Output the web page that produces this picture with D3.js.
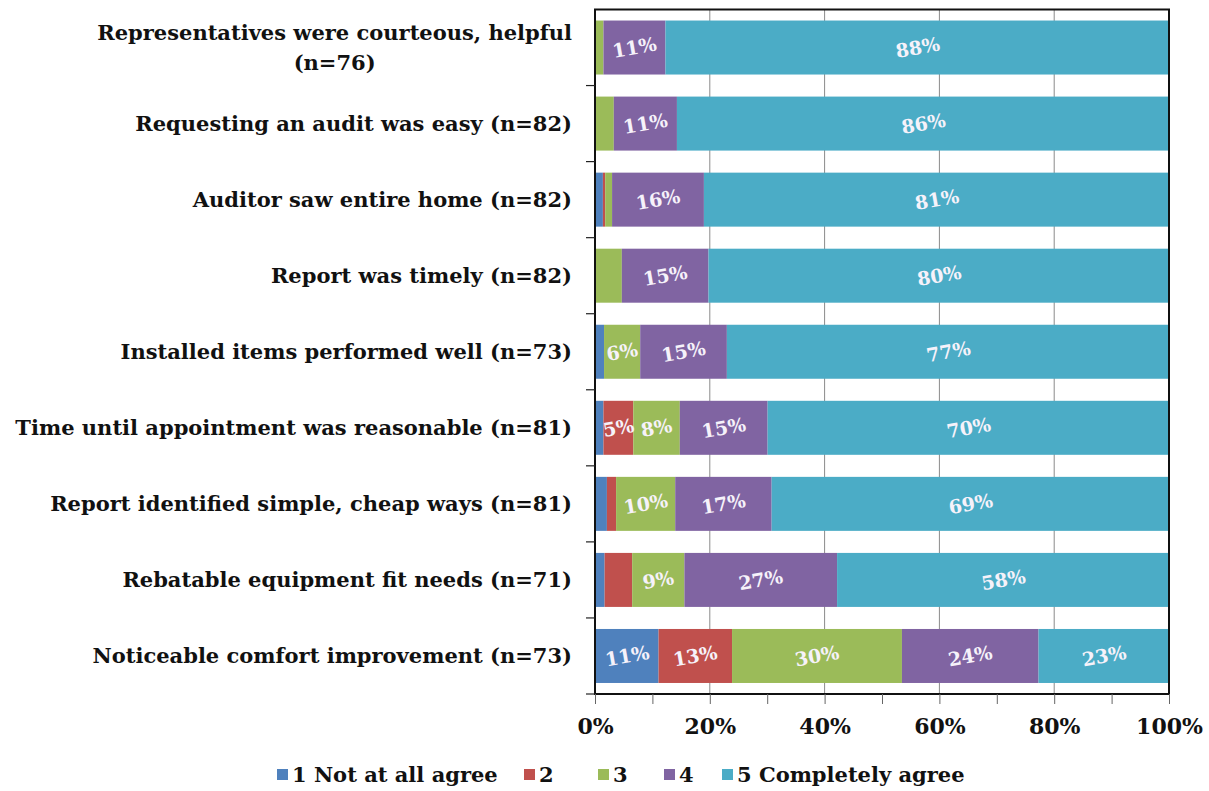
<!DOCTYPE html>
<html>
<head>
<meta charset="utf-8">
<script src="https://cdn.jsdelivr.net/npm/d3@7"></script>
<style>
  html, body { margin: 0; padding: 0; background: #fff; }
  svg { display: block; }
  text { font-family: "DejaVu Serif", "Liberation Serif", serif; font-weight: bold; }
</style>
</head>
<body>
<svg id="chart" width="1209" height="791"></svg>
<script>
// Survey statements (top to bottom), each label line as its own entry
const categories = [
  ["Representatives were courteous, helpful", "(n=76)"],
  ["Requesting an audit was easy (n=82)"],
  ["Auditor saw entire home (n=82)"],
  ["Report was timely (n=82)"],
  ["Installed items performed well (n=73)"],
  ["Time until appointment was reasonable (n=81)"],
  ["Report identified simple, cheap ways (n=81)"],
  ["Rebatable equipment fit needs (n=71)"],
  ["Noticeable comfort improvement (n=73)"]
];

// Response levels
const seriesNames = ["1 Not at all agree", "2", "3", "4", "5 Completely agree"];

// Percent of respondents per level, one array per level, rows in category order
const level1 = [0,   0,   1.2, 0,   1.4, 1.3, 1.9, 1.5, 10.9];
const level2 = [0,   0,   0.4, 0,   0,   5.2, 1.6, 4.8, 12.8];
const level3 = [1.3, 3.1, 1.2, 4.5, 6.3, 8.1, 10.3, 9.1, 29.6];
const level4 = [10.8, 11,  16, 15.1, 15.1, 15.3, 16.8, 26.6, 23.8];
const level5 = [87.9, 85.9, 81.2, 80.4, 77.2, 70.1, 69.4, 58.0, 22.9];

const tickValues = [0, 20, 40, 60, 80, 100];
const minorTickValues = [0, 10, 20, 30, 40, 50, 60, 70, 80, 90, 100];

const colors = ["#4F81BD", "#C0504D", "#9BBB59", "#8064A2", "#4BACC6"];

const svg = d3.select("#chart");
const plot = { left: 595, right: 1169, top: 9.5, bottom: 694 };

const x = d3.scaleLinear().domain([0, 100]).range([plot.left, plot.right]);
const y = d3.scaleBand()
  .domain(d3.range(categories.length))
  .range([plot.top, plot.bottom])
  .paddingInner(0.29)
  .paddingOuter(0.145);

// Build stacked table from the level arrays
const levels = [level1, level2, level3, level4, level5];
const table = categories.map((c, i) => {
  const row = { idx: i };
  seriesNames.forEach((s, k) => row[s] = levels[k][i]);
  return row;
});
const stack = d3.stack().keys(seriesNames)(table);

// Vertical gridlines
svg.append("g")
  .selectAll("line")
  .data(tickValues.filter(v => v > 0 && v < 100))
  .join("line")
  .attr("x1", d => x(d)).attr("x2", d => x(d))
  .attr("y1", plot.top).attr("y2", plot.bottom)
  .attr("stroke", "#8a8a8a").attr("stroke-width", 1);

// Bars
const layer = svg.append("g").selectAll("g")
  .data(stack)
  .join("g")
  .attr("fill", (d, k) => colors[k]);

layer.selectAll("rect")
  .data(d => d)
  .join("rect")
  .attr("x", d => x(d[0]) + 1)
  .attr("width", d => Math.max(0, x(d[1]) - x(d[0])))
  .attr("y", d => y(d.data.idx))
  .attr("height", y.bandwidth());

// Value labels on segments of 5% or more
const labelG = svg.append("g");
stack.forEach((ser, k) => {
  ser.forEach(d => {
    const v = d[1] - d[0];
    if (v < 5) return;
    const cx = (x(d[0]) + x(d[1])) / 2 + 1;
    const cy = y(d.data.idx) + y.bandwidth() / 2;
    labelG.append("text")
      .attr("transform", `translate(${cx},${cy}) rotate(-10)`)
      .attr("text-anchor", "middle")
      .attr("dy", "0.35em")
      .attr("fill", "#f6f2fa")
      .style("font-size", "19px")
      .text(Math.round(v) + "%");
  });
});

// Plot frame
svg.append("rect")
  .attr("x", plot.left).attr("y", plot.top)
  .attr("width", plot.right - plot.left).attr("height", plot.bottom - plot.top)
  .attr("fill", "none").attr("stroke", "#111").attr("stroke-width", 2);

// Y axis ticks at category boundaries
const boundaries = d3.range(categories.length + 1).map(i => plot.top + i * y.step());
svg.append("g").selectAll("line")
  .data(boundaries.slice(1))
  .join("line")
  .attr("x1", plot.left - 9).attr("x2", plot.left)
  .attr("y1", d => d).attr("y2", d => d)
  .attr("stroke", "#222").attr("stroke-width", 1.2);

// X axis
const xAxis = d3.axisBottom(x)
  .tickValues(minorTickValues)
  .tickSize(10)
  .tickFormat(d => tickValues.includes(d) ? d + "%" : "");
const gx = svg.append("g")
  .attr("transform", `translate(0,${plot.bottom})`)
  .call(xAxis);
gx.select(".domain").remove();
gx.selectAll(".tick line").attr("stroke", "#666");
gx.selectAll(".tick text")
  .attr("y", 24)
  .attr("fill", "#111")
  .style("font-size", "22px")
  .style("font-family", "'DejaVu Serif', serif")
  .style("font-weight", "bold");

// Category labels
const catG = svg.append("g");
const catSize = "21px";
categories.forEach((lines, i) => {
  const cy = y(i) + y.bandwidth() / 2;
  const lh = 30;
  const t = catG.append("text")
    .attr("fill", "#111")
    .style("font-size", catSize);
  if (lines.length === 1) {
    t.attr("x", 572).attr("y", cy).attr("dy", "0.35em")
      .attr("text-anchor", "end").text(lines[0]);
  } else {
    // first line right-aligned, following lines centred under it
    const first = t.attr("x", 572).attr("y", cy - lh / 2).attr("dy", "0.35em")
      .attr("text-anchor", "end").text(lines[0]);
    const w = first.node().getComputedTextLength();
    lines.slice(1).forEach((ln, j) => {
      catG.append("text")
        .attr("fill", "#111")
        .style("font-size", catSize)
        .attr("x", 572 - w / 2)
        .attr("y", cy - lh / 2 + lh * (j + 1))
        .attr("dy", "0.35em")
        .attr("text-anchor", "middle")
        .text(ln);
    });
  }
});

// Legend
const legendX = [277, 524, 598, 664, 722];
const legend = svg.append("g");
seriesNames.forEach((s, k) => {
  legend.append("rect")
    .attr("x", legendX[k]).attr("y", 769)
    .attr("width", 11).attr("height", 11)
    .attr("fill", colors[k]);
  legend.append("text")
    .attr("x", legendX[k] + 15).attr("y", 775)
    .attr("dy", "0.35em")
    .attr("fill", "#111")
    .style("font-size", "21px")
    .text(s);
});
</script>
</body>
</html>
